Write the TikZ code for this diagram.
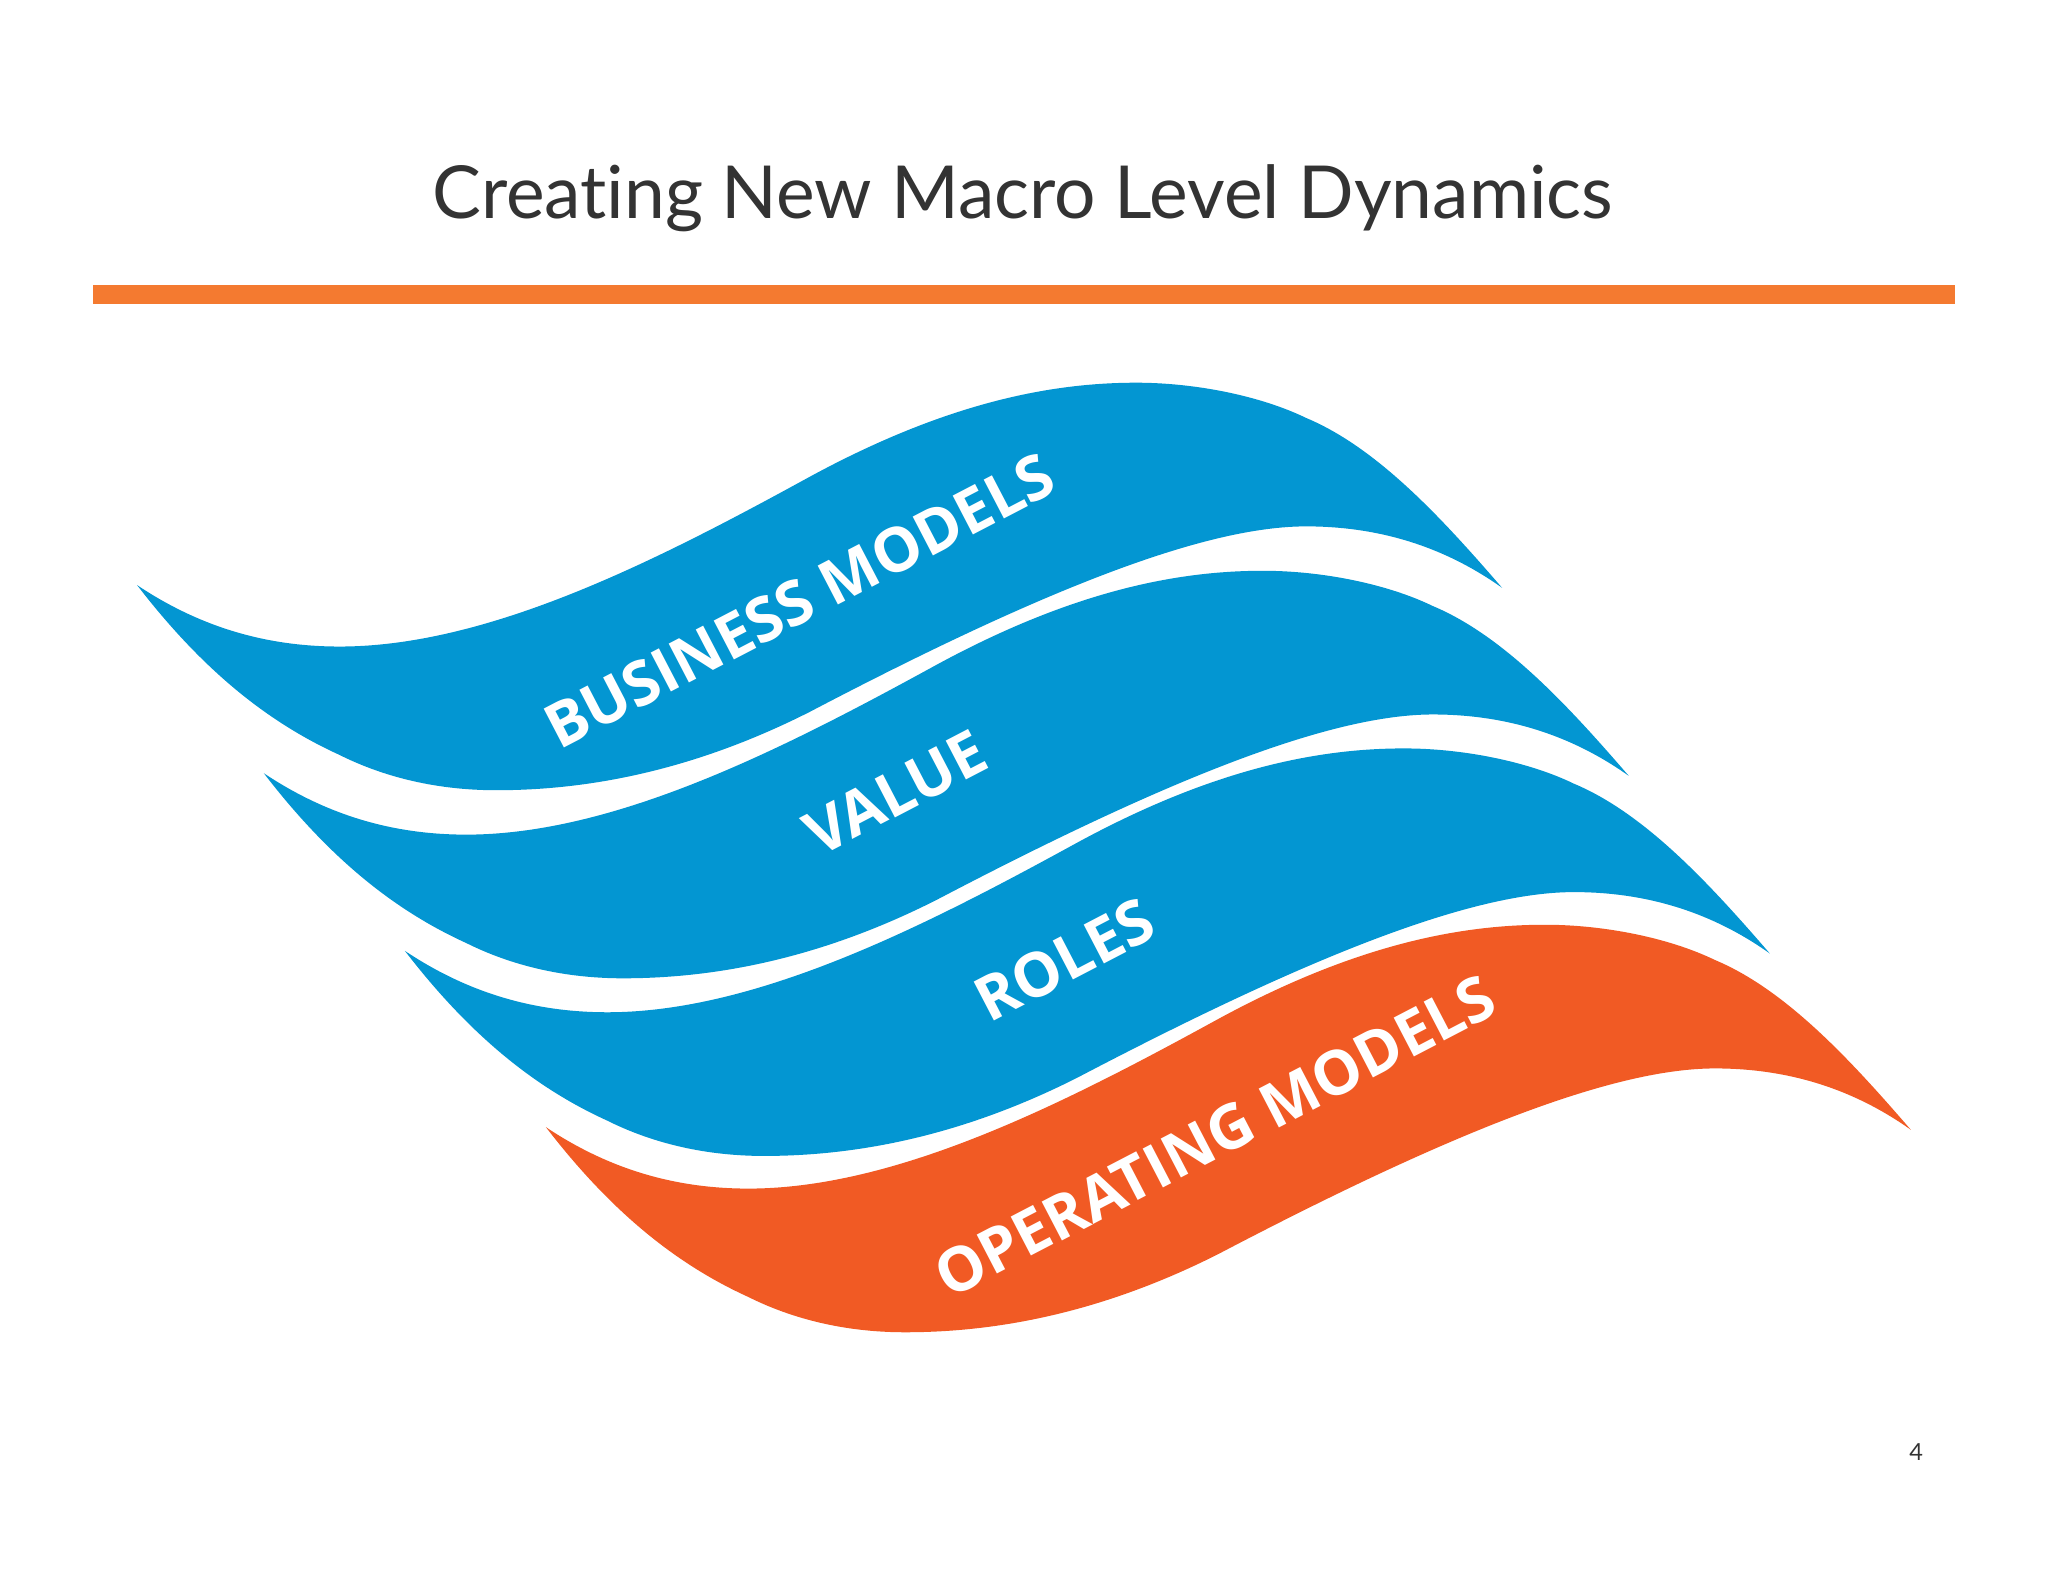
\documentclass[tikz,border=0pt]{standalone}
\usepackage{fontspec}
\setmainfont{Open Sans}
\newfontfamily\titlefont[Ligatures=NoCommon]{Lato}
\definecolor{wblue}{HTML}{0396D2}
\definecolor{worange}{HTML}{F15A24}
\definecolor{barorange}{HTML}{F47A30}
\definecolor{tgray}{HTML}{333333}
\begin{document}
\begin{tikzpicture}[x=1pt,y=-1pt,
  lbl/.style={text=white,font=\fontsize{47}{49}\selectfont\bfseries,rotate=27.5,inner sep=0pt}]
\useasboundingbox (0,0) rectangle (1568,1211);
\fill[white] (0,0) rectangle (1568,1211);
\def\band{(0,0) .. controls (45,30) and (95,47) .. (155,47)
 .. controls (270,47) and (400,-20) .. (515,-83)
 .. controls (620,-140) and (700,-155) .. (765,-155)
 .. controls (810,-155) and (860,-145) .. (895,-128)
 .. controls (950,-105) and (1000,-50) .. (1045,2)
 .. controls (1000,-30) and (950,-45) .. (895,-45)
 .. controls (820,-45) and (700,0) .. (515,97)
 .. controls (430,140) and (350,157) .. (275,157)
 .. controls (225,157) and (185,145) .. (155,130)
 .. controls (100,105) and (50,65) .. (0,0) -- cycle}
\begin{scope}[shift={(105,448)}]\fill[wblue] \band;\end{scope}
\begin{scope}[shift={(202,592)}]\fill[wblue] \band;\end{scope}
\begin{scope}[shift={(310,728)}]\fill[wblue] \band;\end{scope}
\begin{scope}[shift={(418,863)}]\fill[worange] \band;\end{scope}
\node[text=tgray,font=\titlefont\fontsize{56}{58}\selectfont] (title) at (783,152) {Creating New Macro Level Dynamics};
\fill[barorange] (71,218) rectangle (1497,233);
\node[lbl] (bm) at (612,460) {BUSINESS MODELS};
\node[lbl] (va) at (686,607) {VALUE};
\node[lbl] (ro) at (815,735) {ROLES};
\node[lbl] (om) at (930,870) {OPERATING MODELS};
\node[text=tgray,font=\titlefont\fontsize{18}{20}\selectfont] (pg) at (1467,1112) {4};
\end{tikzpicture}
\end{document}
